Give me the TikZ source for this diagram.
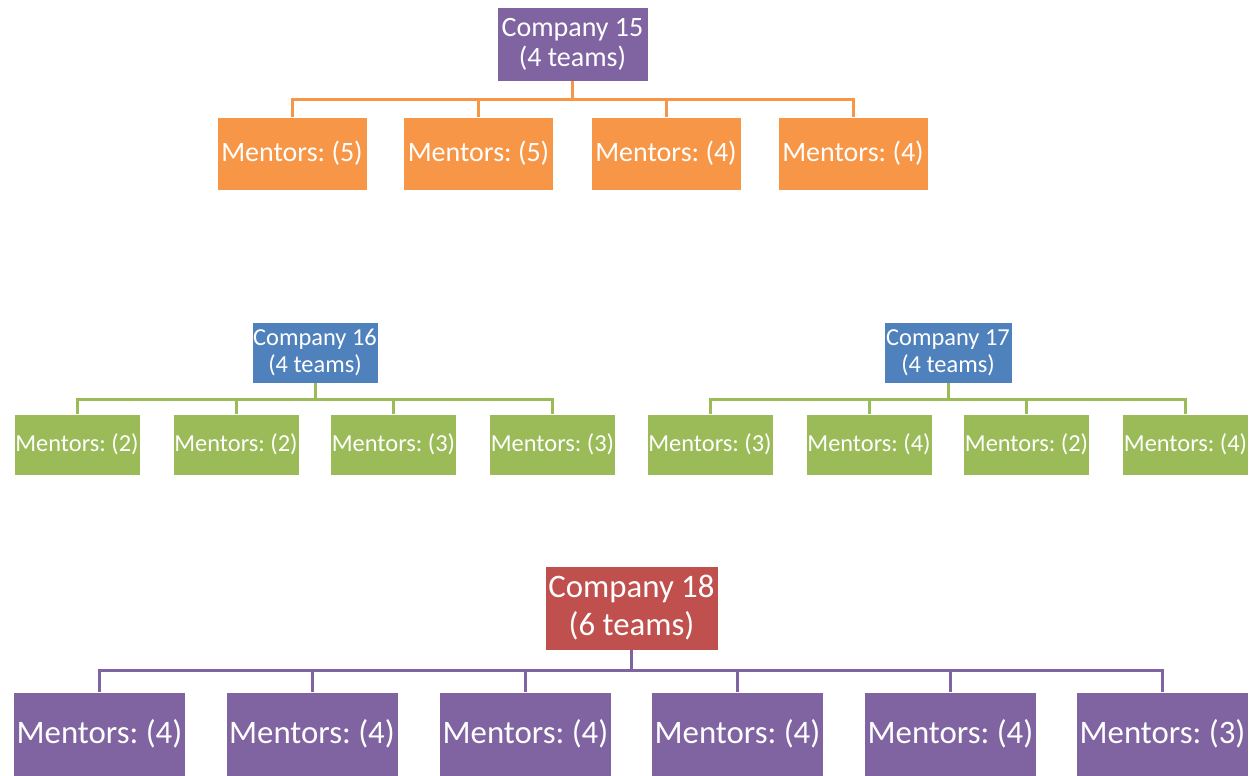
\documentclass[tikz,border=0pt]{standalone}
\usepackage{fontspec}
\setmainfont{Carlito}
\frenchspacing
\definecolor{orgfill}{HTML}{F79646}
\definecolor{purfill}{HTML}{8064A2}
\definecolor{blufill}{HTML}{4F81BD}
\definecolor{grnfill}{HTML}{9BBB59}
\definecolor{redfill}{HTML}{C0504D}
\begin{document}
\begin{tikzpicture}[x=1pt,y=-1pt,
  box/.style={rectangle, inner sep=0pt, text=white, align=center, draw=white, line width=0.6pt},
  topfont/.style={font=\fontsize{28}{30}\selectfont},
  midfont/.style={font=\fontsize{24.4}{27}\selectfont},
  lowfont/.style={font=\fontsize{32.8}{38}\selectfont},
  bigbox/.style={box, lowfont, minimum width=172pt, minimum height=84pt},
  topbox/.style={box, topfont, minimum width=150pt, minimum height=73pt},
  midbox/.style={box, midfont, minimum width=126pt, minimum height=61pt},
  link/.style={line width=3pt}
]
\useasboundingbox (0,0) rectangle (1253,776);

% ---- Company 15 ----
\node[topbox, fill=purfill, minimum width=151pt, minimum height=74pt] (c15) at (572.5,44) {Company 15\\(4 teams)};
\foreach \i/\x/\n in {1/292/5, 2/478.5/5, 3/666/4, 4/853/4}
  \node[topbox, fill=orgfill] (c15m\i) at (\x,153.5) {Mentors: (\n)};
\coordinate (b15) at (572.5,99);
\draw[link, orgfill] (c15.south) -- (b15);
\foreach \i in {1,...,4}
  \draw[link, orgfill] (b15) -| (c15m\i.north);

% ---- Company 16 ----
\node[midbox, fill=blufill] (c16) at (315,352.5) {Company 16\\(4 teams)};
\foreach \i/\x/\n in {1/77/2, 2/236/2, 3/393.5/3, 4/552.5/3}
  \node[midbox, fill=grnfill] (c16m\i) at (\x,444.5) {Mentors: (\n)};
\coordinate (b16) at (315,399);
\draw[link, grnfill] (c16.south) -- (b16);
\foreach \i in {1,...,4}
  \draw[link, grnfill] (b16) -| (c16m\i.north);

% ---- Company 17 ----
\node[midbox, fill=blufill, minimum width=128pt] (c17) at (948,352.5) {Company 17\\(4 teams)};
\foreach \i/\x/\n in {1/710/3, 2/869/4, 3/1026.5/2, 4/1185.5/4}
  \node[midbox, fill=grnfill] (c17m\i) at (\x,444.5) {Mentors: (\n)};
\coordinate (b17) at (948,399);
\draw[link, grnfill] (c17.south) -- (b17);
\foreach \i in {1,...,4}
  \draw[link, grnfill] (b17) -| (c17m\i.north);

% ---- Company 18 ----
\node[bigbox, fill=redfill, minimum width=173pt] (c18) at (631.5,608) {Company 18\\(6 teams)};
\foreach \i/\x/\n in {1/99.5/4, 2/312/4, 3/525.5/4, 4/737.5/4, 5/950.5/4, 6/1162.5/3}
  \node[bigbox, fill=purfill] (c18m\i) at (\x,734) {Mentors: (\n)};
\coordinate (b18) at (631.5,670);
\draw[link, purfill] (c18.south) -- (b18);
\foreach \i in {1,...,6}
  \draw[link, purfill] (b18) -| (c18m\i.north);
\end{tikzpicture}
\end{document}
